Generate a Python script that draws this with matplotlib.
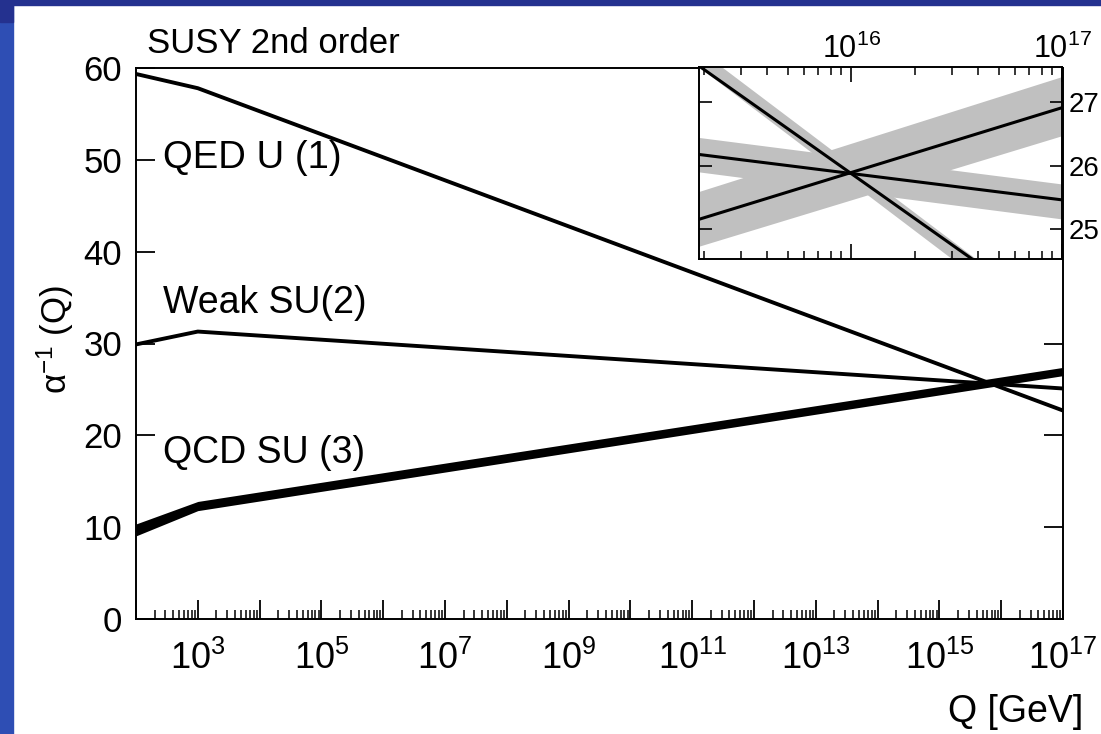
import matplotlib
matplotlib.use("Agg")
import matplotlib.pyplot as plt
import matplotlib.ticker as mticker
from matplotlib.patches import Rectangle
import numpy as np

plt.rcParams['font.family'] = ['Liberation Sans', 'DejaVu Sans']
plt.rcParams['mathtext.fontset'] = 'custom'
plt.rcParams['mathtext.rm'] = 'Liberation Sans'
plt.rcParams['mathtext.it'] = 'Liberation Sans:italic'
plt.rcParams['mathtext.bf'] = 'Liberation Sans:bold'

# main plot: inverse couplings vs Q [GeV] (straight in log Q between points)
main_q = [1e2, 1e3, 1e17]
main_qed = [59.35, 57.8, 22.7]
main_weak = [29.9, 31.3, 25.1]
main_qcd = [9.7, 12.3, 26.95]
main_qcd_err = [0.65, 0.5, 0.45]

# inset: zoom around the unification point, with error bands
inset_q = [1e15, 1e17]
inset_qed = [28.22, 23.53]
inset_qed_lo = [28.25, 23.22]
inset_qed_hi = [28.52, 23.51]
inset_weak = [26.29, 25.46]
inset_weak_lo = [26.02, 25.16]
inset_weak_hi = [26.56, 25.71]
inset_qcd = [24.87, 26.91]
inset_qcd_lo = [24.45, 26.47]
inset_qcd_hi = [25.30, 27.40]

W, H = 1101, 734
fig = plt.figure(figsize=(W / 100, H / 100), dpi=100)
fig.patch.set_facecolor('white')

# blue slide border
fig.patches.append(Rectangle((0, 0), 13 / W, 1, transform=fig.transFigure,
                             color='#2e4eb4', zorder=0))
fig.patches.append(Rectangle((0, 1 - 5 / H), 1, 5 / H, transform=fig.transFigure,
                             color='#24318f', zorder=0))
fig.patches.append(Rectangle((0, 1 - 22 / H), 13 / W, 22 / H, transform=fig.transFigure,
                             color='#24318f', zorder=0))


def px(x0, y0, x1, y1):
    return [x0 / W, 1 - y1 / H, (x1 - x0) / W, (y1 - y0) / H]


ax = fig.add_axes(px(136, 68, 1063, 619))
ax.set_xscale('log')
ax.set_xlim(1e2, 1e17)
ax.set_ylim(0, 60)

ax.plot(main_q, main_qed, color='k', lw=2.8, solid_joinstyle='round')
ax.plot(main_q, main_weak, color='k', lw=2.8, solid_joinstyle='round')
qcd = np.array(main_qcd)
err = np.array(main_qcd_err)
ax.fill_between(main_q, qcd - err, qcd + err, color='k', lw=0)
ax.plot(main_q, main_qcd, color='k', lw=2.8)

ax.text(274, 49.1, 'QED U (1)', fontsize=27.5, va='baseline')
ax.text(274, 33.3, 'Weak SU(2)', fontsize=27, va='baseline')
ax.text(274, 17.0, 'QCD SU (3)', fontsize=27, va='baseline')

ax.xaxis.set_major_locator(mticker.LogLocator(base=10, numticks=30))
ax.xaxis.set_minor_locator(mticker.LogLocator(base=10, subs=np.arange(2, 10), numticks=200))
ax.xaxis.set_minor_formatter(mticker.NullFormatter())


def odd_pow(v, pos):
    k = int(round(np.log10(v)))
    return r'$\mathdefault{10^{%d}}$' % k if k % 2 == 1 else ''


ax.xaxis.set_major_formatter(mticker.FuncFormatter(odd_pow))
ax.yaxis.set_major_locator(mticker.MultipleLocator(10))
ax.tick_params(axis='x', which='major', direction='in', length=13.5, width=1.3,
               top=False, labelsize=26, pad=16)
ax.tick_params(axis='x', which='minor', direction='in', length=6.5, width=1.1, top=False)
ax.tick_params(axis='y', direction='in', length=13.5, width=1.3, left=True, right=True,
               labelsize=25, pad=10)
for s in ax.spines.values():
    s.set_linewidth(1.4)

fig.text(147 / W, 1 - 53 / H, 'SUSY 2nd order', fontsize=25, va='baseline')
fig.text(1083 / W, 1 - 722 / H, 'Q [GeV]', fontsize=27, va='baseline', ha='right')
fig.text(55 / W, 1 - 340 / H, r'α$^{-1}$ (Q)', fontsize=25, rotation=90,
         ha='center', va='center')

# inset
axi = fig.add_axes(px(699, 67, 1062, 259))
axi.set_xscale('log')
axi.set_xlim(1.9e15, 1e17)
axi.set_ylim(24.53, 27.55)
gray = '#c0c0c0'
axi.fill_between(inset_q, inset_qed_lo, inset_qed_hi, color=gray, lw=0)
axi.fill_between(inset_q, inset_weak_lo, inset_weak_hi, color=gray, lw=0)
axi.fill_between(inset_q, inset_qcd_lo, inset_qcd_hi, color=gray, lw=0)
axi.plot(inset_q, inset_qed, color='k', lw=2.2)
axi.plot(inset_q, inset_weak, color='k', lw=2.2)
axi.plot(inset_q, inset_qcd, color='k', lw=2.2)

axi.xaxis.set_major_locator(mticker.LogLocator(base=10, numticks=10))
axi.xaxis.set_minor_locator(mticker.LogLocator(base=10, subs=np.arange(2, 10), numticks=50))
axi.xaxis.set_minor_formatter(mticker.NullFormatter())
axi.xaxis.set_major_formatter(mticker.LogFormatterSciNotation())
axi.yaxis.set_major_locator(mticker.MultipleLocator(1))
axi.tick_params(axis='x', which='major', direction='in', length=10.5, width=1.2,
                top=True, bottom=True, labeltop=True, labelbottom=False,
                labelsize=22, pad=1.5)
axi.tick_params(axis='x', which='minor', direction='in', length=5.5, width=1.1,
                top=True, bottom=True)
axi.tick_params(axis='y', direction='in', length=9, width=1.2, left=True, right=True,
                labelleft=False, labelright=True, labelsize=20, pad=5)
for s in axi.spines.values():
    s.set_linewidth(1.4)

fig.savefig('out.png', dpi=100)
